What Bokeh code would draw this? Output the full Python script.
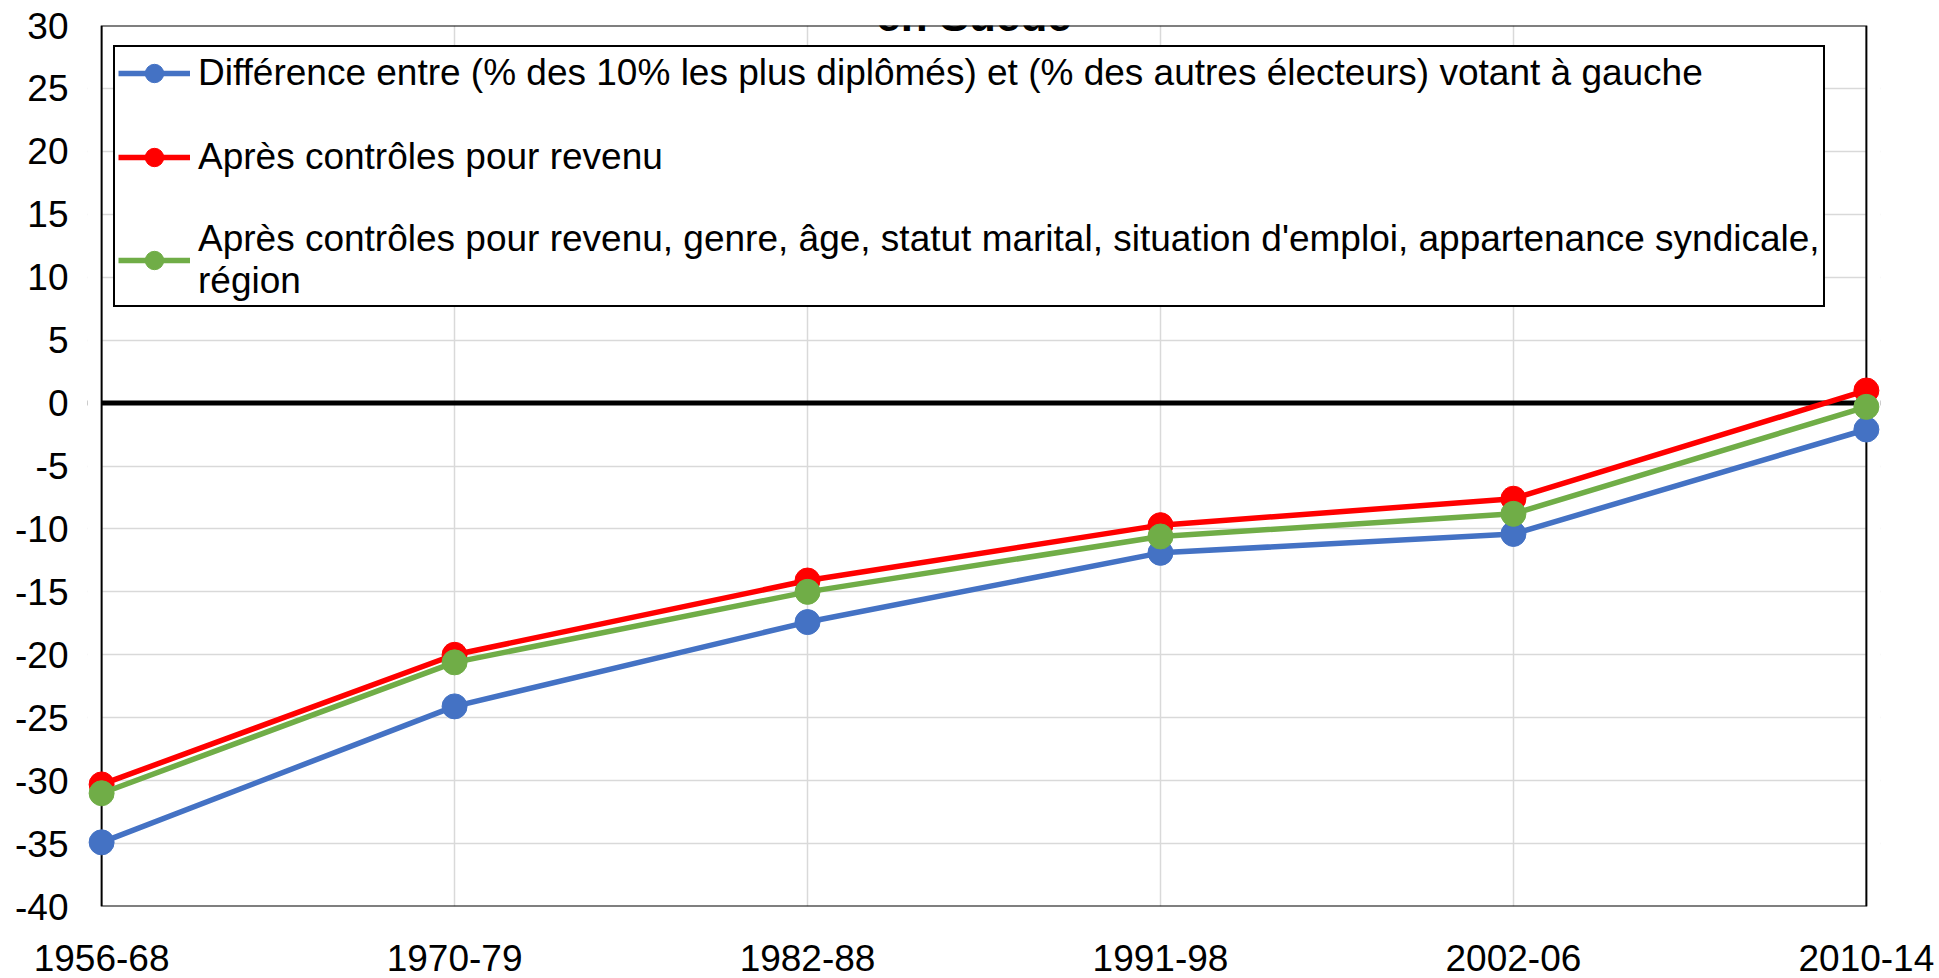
from bokeh.plotting import figure
from bokeh.models import (Range1d, FixedTicker, Span, BoxAnnotation, Legend,
                          LegendItem, Label)
from bokeh.embed import file_html
from bokeh.resources import INLINE

# ---------------- data ----------------
periods = ["1956-68", "1970-79", "1982-88", "1991-98", "2002-06", "2010-14"]
diff_raw = [-34.9, -24.1, -17.4, -11.9, -10.4, -2.1]
diff_income = [-30.3, -20.0, -14.1, -9.7, -7.6, 1.0]
diff_all = [-31.0, -20.6, -15.0, -10.6, -8.8, -0.3]
y_ticks = [-40, -35, -30, -25, -20, -15, -10, -5, 0, 5, 10, 15, 20, 25, 30]
series_labels = [
    "Différence entre (% des 10% les plus diplômés) et (% des autres électeurs) votant à gauche",
    "Après contrôles pour revenu",
    "Après contrôles pour revenu, genre, âge, statut marital, situation d'emploi, appartenance syndicale,\nrégion",
]
title_text = "en Suède"

# ---------------- style ----------------
FONT = "Liberation Sans"
FS = "37px"
colors = ["#4472C4", "#FF0000", "#70AD47"]

xs = list(range(len(periods)))
pad = 0.04
ymin, ymax = y_ticks[0], y_ticks[-1]

p = figure(width=1939, height=978, output_backend="svg", toolbar_location=None,
           title=None,
           x_range=Range1d(xs[0] - pad, xs[-1] + pad), y_range=Range1d(ymin, ymax),
           min_border_left=87, min_border_right=59, min_border_top=25,
           min_border_bottom=72)
p.outline_line_color = None
p.background_fill_color = "white"
p.border_fill_color = "white"

# axes
p.xaxis.ticker = FixedTicker(ticks=xs)
p.xaxis.major_label_overrides = {i: s for i, s in enumerate(periods)}
p.yaxis.ticker = FixedTicker(ticks=y_ticks)
p.yaxis.major_label_overrides = {v: str(v) for v in y_ticks}
for ax in (p.xaxis, p.yaxis):
    ax.axis_line_color = None
    ax.major_tick_line_color = None
    ax.minor_tick_line_color = None
    ax.major_tick_out = 0
    ax.major_tick_in = 0
    ax.major_label_text_font = FONT
    ax.major_label_text_font_size = FS
    ax.major_label_text_color = "black"
p.xaxis.major_label_standoff = 38
p.yaxis.major_label_standoff = 19

# grids
p.xgrid.ticker = FixedTicker(ticks=xs)
p.ygrid.ticker = FixedTicker(ticks=y_ticks)
for g in (p.xgrid, p.ygrid):
    g.grid_line_color = "#d9d9d9"
    g.grid_line_width = 1.5

# zero line (under series)
p.add_layout(Span(location=0, dimension="width", line_color="black",
                  line_width=5, level="underlay"))
# white covers for padding zones outside the category span
p.add_layout(BoxAnnotation(right=xs[0], fill_color="white", fill_alpha=1,
                           line_alpha=0, level="underlay"))
p.add_layout(BoxAnnotation(left=xs[-1], fill_color="white", fill_alpha=1,
                           line_alpha=0, level="underlay"))
# plot area border
p.add_layout(BoxAnnotation(left=xs[0], right=xs[-1], top=ymax, bottom=ymin,
                           fill_alpha=0, line_color="black", line_alpha=1,
                           line_width=2, level="underlay"))

items = []
for vals, col, lab in zip([diff_raw, diff_income, diff_all], colors, series_labels):
    r1 = p.line(xs, vals, line_color=col, line_width=5.5)
    r2 = p.scatter(xs, vals, size=25, fill_color=col, line_color=col, marker="circle")
    items.append(LegendItem(label=lab, renderers=[r1, r2]))

legend = Legend(items=items, location=(26, 599))
legend.label_text_font = FONT
legend.label_text_font_size = FS
legend.label_text_color = "black"
legend.glyph_width = 72
legend.glyph_height = 46
legend.label_standoff = 8
legend.padding = 3
legend.spacing = 38
legend.margin = 0
legend.border_line_color = "black"
legend.border_line_alpha = 1
legend.border_line_width = 2
legend.background_fill_color = "white"
legend.background_fill_alpha = 1
p.add_layout(legend)

# second line of the (cut) chart title, sitting just above the plot frame
p.add_layout(Label(x=2.5, y=ymax + 0.82, x_offset=-10, text=title_text,
                   text_font=FONT, text_font_size="44px", text_font_style="bold",
                   text_align="center", text_baseline="alphabetic",
                   text_color="black"))

open("out.html", "w").write(file_html(p, INLINE))
